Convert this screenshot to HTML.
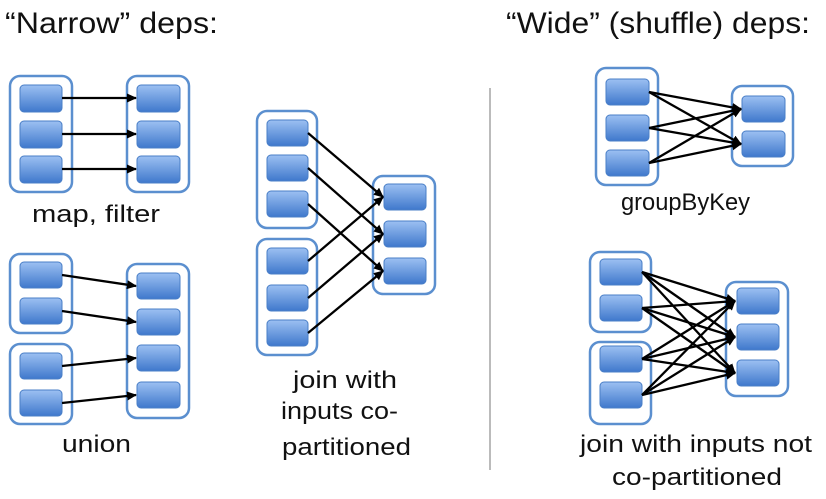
<!DOCTYPE html>
<html><head><meta charset="utf-8"><style>
html,body{margin:0;padding:0;background:#fff;}
svg{display:block;font-family:"Liberation Sans",sans-serif;}
</style></head><body>
<svg width="826" height="499" viewBox="0 0 826 499" xmlns="http://www.w3.org/2000/svg">
<defs>
<linearGradient id="g" x1="0" y1="0" x2="0" y2="1">
<stop offset="0" stop-color="#9cc0f2"/><stop offset="1" stop-color="#3f78cc"/></linearGradient>
<marker id="a" markerWidth="10" markerHeight="10" refX="9" refY="5" orient="auto" markerUnits="userSpaceOnUse">
<path d="M0,0.5 L10,5 L0,9.5 z" fill="#000"/></marker>
<style>
.c{fill:#fff;stroke:#5b8fcf;stroke-width:2.5}
.b{fill:url(#g);stroke:#4a7fc7;stroke-width:1}
.l{stroke:#000;stroke-width:2.3;marker-end:url(#a)}
.t{font-size:24px;fill:#111}
.h{font-size:30px;fill:#111}
</style>
</defs>
<text class="h" x="5" y="33" textLength="213" lengthAdjust="spacingAndGlyphs">“Narrow” deps:</text>
<text class="h" x="506" y="33" textLength="304" lengthAdjust="spacingAndGlyphs">“Wide” (shuffle) deps:</text>
<line x1="490" y1="88" x2="490" y2="470" stroke="#bbb" stroke-width="2"/>

<!-- map filter -->
<rect class="c" x="10" y="76" width="62" height="116" rx="10"/>
<rect class="b" x="20" y="85" width="42" height="27" rx="4"/>
<rect class="b" x="20" y="121" width="42" height="27" rx="4"/>
<rect class="b" x="20" y="156" width="42" height="27" rx="4"/>
<rect class="c" x="127" y="76" width="62" height="116" rx="10"/>
<rect class="b" x="137" y="85" width="43" height="27" rx="4"/>
<rect class="b" x="137" y="121" width="43" height="27" rx="4"/>
<rect class="b" x="137" y="156" width="43" height="27" rx="4"/>
<line class="l" x1="62" y1="98" x2="136" y2="98"/>
<line class="l" x1="62" y1="134" x2="136" y2="134"/>
<line class="l" x1="62" y1="169" x2="136" y2="169"/>
<text class="t" x="32" y="222" textLength="128" lengthAdjust="spacingAndGlyphs">map, filter</text>

<!-- union -->
<rect class="c" x="10" y="254" width="62" height="79" rx="10"/>
<rect class="b" x="20" y="262" width="42" height="26" rx="4"/>
<rect class="b" x="20" y="298" width="42" height="26" rx="4"/>
<rect class="c" x="10" y="344" width="62" height="80" rx="10"/>
<rect class="b" x="20" y="353" width="42" height="26" rx="4"/>
<rect class="b" x="20" y="390" width="42" height="26" rx="4"/>
<rect class="c" x="127" y="264" width="62" height="154" rx="10"/>
<rect class="b" x="137" y="273" width="43" height="26" rx="4"/>
<rect class="b" x="137" y="309" width="43" height="26" rx="4"/>
<rect class="b" x="137" y="345" width="43" height="26" rx="4"/>
<rect class="b" x="137" y="382" width="43" height="26" rx="4"/>
<line class="l" x1="62" y1="275" x2="136" y2="286"/>
<line class="l" x1="62" y1="311" x2="136" y2="322"/>
<line class="l" x1="62" y1="366" x2="136" y2="358"/>
<line class="l" x1="62" y1="403" x2="136" y2="395"/>
<text class="t" x="62" y="452" textLength="69" lengthAdjust="spacingAndGlyphs">union</text>

<!-- join co-partitioned -->
<rect class="c" x="257" y="111" width="60" height="117" rx="10"/>
<rect class="b" x="267" y="120" width="41" height="26" rx="4"/>
<rect class="b" x="267" y="155" width="41" height="26" rx="4"/>
<rect class="b" x="267" y="191" width="41" height="26" rx="4"/>
<rect class="c" x="257" y="239" width="60" height="116" rx="10"/>
<rect class="b" x="267" y="248" width="41" height="26" rx="4"/>
<rect class="b" x="267" y="285" width="41" height="26" rx="4"/>
<rect class="b" x="267" y="320" width="41" height="26" rx="4"/>
<rect class="c" x="373" y="176" width="62" height="118" rx="10"/>
<rect class="b" x="384" y="184" width="42" height="26" rx="4"/>
<rect class="b" x="384" y="221" width="42" height="26" rx="4"/>
<rect class="b" x="384" y="258" width="42" height="26" rx="4"/>
<line class="l" x1="308" y1="133" x2="383" y2="197"/>
<line class="l" x1="308" y1="168" x2="383" y2="234"/>
<line class="l" x1="308" y1="204" x2="383" y2="271"/>
<line class="l" x1="308" y1="261" x2="383" y2="197"/>
<line class="l" x1="308" y1="298" x2="383" y2="234"/>
<line class="l" x1="308" y1="333" x2="383" y2="271"/>
<text class="t" x="293" y="388" textLength="104" lengthAdjust="spacingAndGlyphs">join with</text>
<text class="t" x="281" y="419" textLength="117" lengthAdjust="spacingAndGlyphs">inputs co-</text>
<text class="t" x="282" y="455" textLength="129" lengthAdjust="spacingAndGlyphs">partitioned</text>

<!-- groupByKey -->
<rect class="c" x="596" y="68" width="62" height="117" rx="10"/>
<rect class="b" x="606" y="79" width="43" height="26" rx="4"/>
<rect class="b" x="606" y="115" width="43" height="26" rx="4"/>
<rect class="b" x="606" y="150" width="43" height="26" rx="4"/>
<rect class="c" x="732" y="86" width="61" height="80" rx="10"/>
<rect class="b" x="742" y="96" width="43" height="26" rx="4"/>
<rect class="b" x="742" y="131" width="43" height="26" rx="4"/>
<line class="l" x1="649" y1="92" x2="741" y2="109"/>
<line class="l" x1="649" y1="92" x2="741" y2="144"/>
<line class="l" x1="649" y1="128" x2="741" y2="109"/>
<line class="l" x1="649" y1="128" x2="741" y2="144"/>
<line class="l" x1="649" y1="163" x2="741" y2="109"/>
<line class="l" x1="649" y1="163" x2="741" y2="144"/>
<text class="t" x="621" y="210" textLength="129" lengthAdjust="spacingAndGlyphs">groupByKey</text>

<!-- join not co-partitioned -->
<rect class="c" x="590" y="252" width="61" height="80" rx="10"/>
<rect class="b" x="600" y="259" width="42" height="26" rx="4"/>
<rect class="b" x="600" y="295" width="42" height="26" rx="4"/>
<rect class="c" x="590" y="342" width="61" height="82" rx="10"/>
<rect class="b" x="600" y="346" width="42" height="26" rx="4"/>
<rect class="b" x="600" y="382" width="42" height="26" rx="4"/>
<rect class="c" x="726" y="282" width="62" height="114" rx="10"/>
<rect class="b" x="737" y="288" width="42" height="26" rx="4"/>
<rect class="b" x="737" y="324" width="42" height="26" rx="4"/>
<rect class="b" x="737" y="360" width="42" height="26" rx="4"/>
<g>
<line class="l" x1="642" y1="272" x2="735" y2="301"/><line class="l" x1="642" y1="272" x2="735" y2="337"/><line class="l" x1="642" y1="272" x2="735" y2="373"/>
<line class="l" x1="642" y1="308" x2="735" y2="301"/><line class="l" x1="642" y1="308" x2="735" y2="337"/><line class="l" x1="642" y1="308" x2="735" y2="373"/>
<line class="l" x1="642" y1="359" x2="735" y2="301"/><line class="l" x1="642" y1="359" x2="735" y2="337"/><line class="l" x1="642" y1="359" x2="735" y2="373"/>
<line class="l" x1="642" y1="395" x2="735" y2="301"/><line class="l" x1="642" y1="395" x2="735" y2="337"/><line class="l" x1="642" y1="395" x2="735" y2="373"/>
</g>
<text class="t" x="580" y="452" textLength="232" lengthAdjust="spacingAndGlyphs">join with inputs not</text>
<text class="t" x="612" y="485" textLength="170" lengthAdjust="spacingAndGlyphs">co-partitioned</text>
</svg>
</body></html>
